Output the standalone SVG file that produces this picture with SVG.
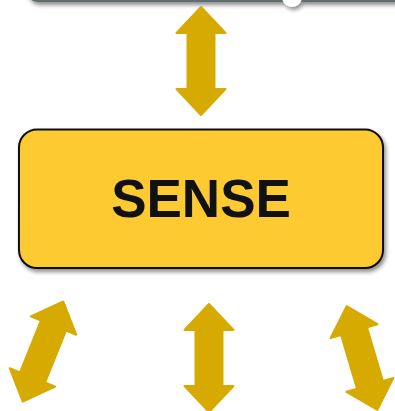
<svg xmlns="http://www.w3.org/2000/svg" width="395" height="411" viewBox="0 0 395 411">
<style>
.arrow{fill:#d6aa00;stroke:#d6aa00;stroke-width:2;stroke-linejoin:round}
.box{fill:#fdca30;stroke:#111;stroke-width:2}
.label{font-family:"Liberation Sans",Arial,sans-serif;font-weight:bold;font-size:53px;fill:#111;text-anchor:middle}
</style>
<defs>
<path id="dbl" d="M0,-54 L24.5,-28 L13.5,-28 L13.5,28 L24.5,28 L0,54 L-24.5,28 L-13.5,28 L-13.5,-28 L-24.5,-28 Z"/>
<filter id="sh" x="-10%" y="-10%" width="130%" height="140%">
<feGaussianBlur in="SourceAlpha" stdDeviation="2"/>
<feOffset dx="2" dy="3" result="b"/>
<feComponentTransfer><feFuncA type="linear" slope="0.45"/></feComponentTransfer>
<feMerge><feMergeNode/><feMergeNode in="SourceGraphic"/></feMerge>
</filter>
</defs>
<g id="top-node" filter="url(#sh)">
<rect x="28" y="-60" width="400" height="61" rx="10" fill="#ffffff" stroke="#5f6e6e" stroke-width="2"/>
<circle cx="292" cy="-3" r="10" fill="#ffffff"/>
</g>
<g id="sense" filter="url(#sh)">
<rect class="box" x="19" y="129.5" width="364" height="138.5" rx="18"/>
</g>
<text class="label" x="201" y="217">SENSE</text>
<g id="connectors">
<use href="#dbl" class="arrow" transform="translate(201,61)"/>
<use href="#dbl" class="arrow" transform="translate(209,358)"/>
<use href="#dbl" class="arrow" transform="translate(43,351.5) rotate(22)"/>
<use href="#dbl" class="arrow" transform="translate(362,358) rotate(-16.5)"/>
</g>
</svg>
